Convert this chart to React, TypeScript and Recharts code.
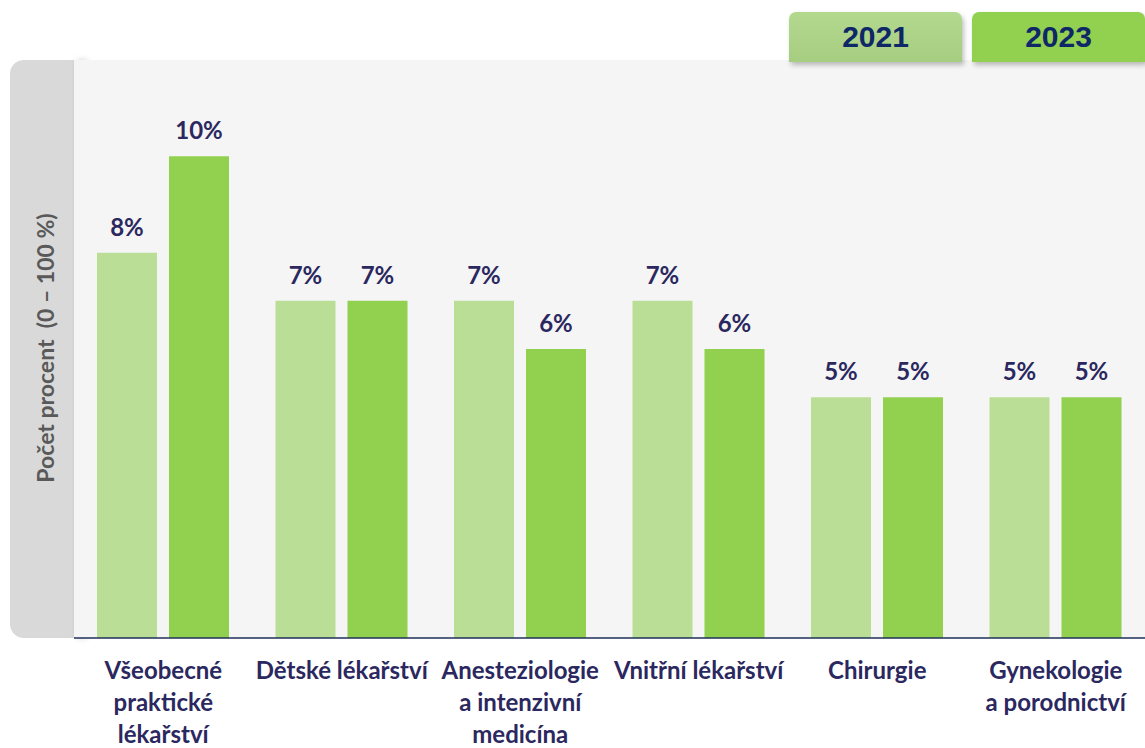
import { BarChart, Bar, XAxis, YAxis, CartesianGrid, Legend, LabelList } from "recharts"

const categories = [
  "Všeobecné\npraktické\nlékařství",
  "Dětské lékařství",
  "Anesteziologie\na intenzivní\nmedicína",
  "Vnitřní lékařství",
  "Chirurgie",
  "Gynekologie\na porodnictví",
]
const values2021 = [8, 7, 7, 7, 5, 5]
const values2023 = [10, 7, 6, 6, 5, 5]
const seriesNames = ["2021", "2023"]

const data = categories.map((name, i) => ({ name, y2021: values2021[i], y2023: values2023[i] }))

const navy = "#2b2860"
const font = "Lato, 'Open Sans', sans-serif"

function CategoryTick(props: any) {
  const { x, y, payload } = props
  const lines = String(payload.value).split("\n")
  return (
    <text x={x} y={y + 33} textAnchor="middle" fill={navy} fontFamily={font} fontWeight={700} fontSize={24}>
      {lines.map((l, i) => (
        <tspan key={i} x={x} dy={i === 0 ? 0 : 32}>
          {l}
        </tspan>
      ))}
    </text>
  )
}

function LegendBoxes() {
  const boxes = [
    { label: seriesNames[0], bg: "linear-gradient(#b3d98f, #a6cd80)" },
    { label: seriesNames[1], bg: "#92d050" },
  ]
  return (
    <div style={{ display: "flex", gap: 10 }}>
      {boxes.map((b) => (
        <div
          key={b.label}
          style={{
            width: 173,
            height: 50,
            background: b.bg,
            borderRadius: "7px 7px 0 0",
            boxShadow: "2px 3px 5px rgba(0,0,0,0.25)",
            display: "flex",
            alignItems: "center",
            justifyContent: "center",
            fontFamily: "'Liberation Sans', Arial, sans-serif",
            fontWeight: 700,
            fontSize: 30,
            color: "#0e2767",
          }}
        >
          {b.label}
        </div>
      ))}
    </div>
  )
}

const labelStyle = { fill: navy, fontFamily: font, fontWeight: 700, fontSize: 24 }

export default function App() {
  return (
    <div style={{ position: "relative", width: 1145, height: 748, background: "#fff" }}>
      <style>{"body{margin:0}"}</style>
      <div
        style={{
          position: "absolute",
          left: 10,
          top: 60,
          width: 90,
          height: 578,
          background: "#d9d9d9",
          borderRadius: "14px 0 0 14px",
        }}
      />
      <div
        style={{
          position: "absolute",
          left: 74,
          top: 60,
          width: 10,
          height: 578,
          boxShadow: "3px 0 6px rgba(0,0,0,0.18)",
        }}
      />
      <div
        style={{
          position: "absolute",
          left: 45,
          top: 348,
          transform: "translate(-50%, -50%) rotate(-90deg)",
          whiteSpace: "pre",
          fontFamily: font,
          fontWeight: 700,
          fontSize: 23,
          color: "#595959",
        }}
      >
        {"Počet procent  (0 – 100 %)"}
      </div>
      <div style={{ position: "absolute", left: 0, top: 0 }}>
        <BarChart
          width={1145}
          height={748}
          data={data}
          margin={{ top: 10, right: 0, left: 74, bottom: 0 }}
          barCategoryGap="13%"
          barGap={12}
        >
          <CartesianGrid fill="#f5f5f5" horizontal={false} vertical={false} />
          <XAxis
            dataKey="name"
            interval={0}
            tickLine={false}
            axisLine={{ stroke: "#1f2f5a", strokeWidth: 1.5 }}
            tick={<CategoryTick />}
            height={110}
          />
          <YAxis domain={[0, 12]} width={0} tick={false} tickLine={false} axisLine={{ stroke: "#1f2f5a", strokeWidth: 1.5 }} />
          <Legend
            verticalAlign="top"
            align="right"
            content={<LegendBoxes />}
            wrapperStyle={{ top: 12, right: 0, left: "auto", width: "auto" }}
          />
          <Bar dataKey="y2021" name={seriesNames[0]} fill="#bbde96" barSize={60} isAnimationActive={false}>
            <LabelList dataKey="y2021" position="top" offset={17} formatter={(v: any) => `${v}%`} {...labelStyle} />
          </Bar>
          <Bar dataKey="y2023" name={seriesNames[1]} fill="#92d050" barSize={60} isAnimationActive={false}>
            <LabelList dataKey="y2023" position="top" offset={17} formatter={(v: any) => `${v}%`} {...labelStyle} />
          </Bar>
        </BarChart>
      </div>
    </div>
  )
}
